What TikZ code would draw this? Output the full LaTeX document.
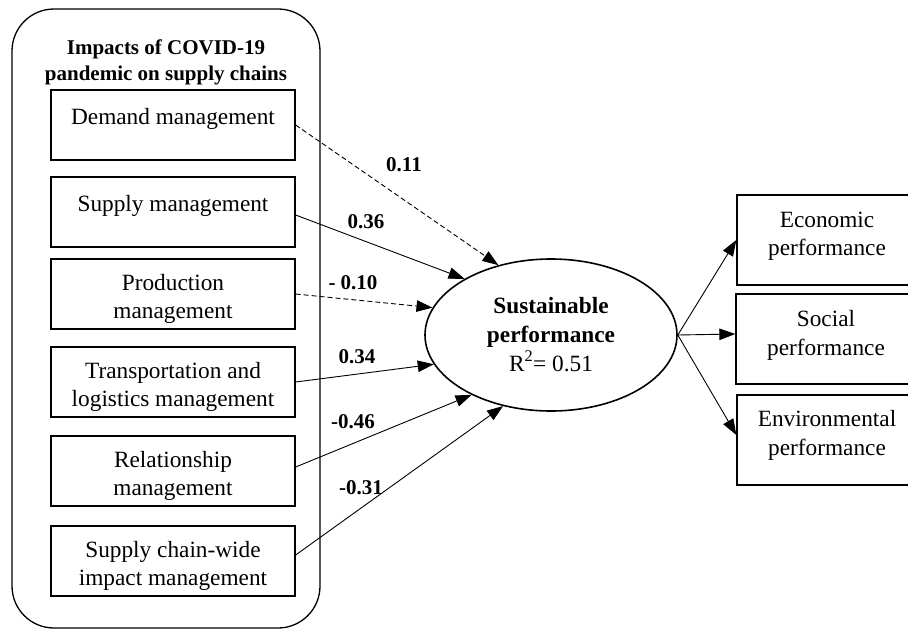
\documentclass[tikz,border=0pt]{standalone}
\usepackage{fontspec}
\setmainfont{Liberation Serif}
\usetikzlibrary{shapes.geometric,arrows.meta}
\begin{document}
\begin{tikzpicture}[x=1pt,y=-1pt,
  lbox/.style={draw,line width=1.3pt,rectangle,minimum width=244pt,minimum height=70pt,inner sep=0pt},
  rbox/.style={draw,line width=1.3pt,rectangle,minimum width=180pt,minimum height=90pt,inner sep=0pt},
  txt/.style={anchor=base,inner sep=0pt,font=\fontsize{23.3}{28}\selectfont},
  ttl/.style={anchor=base,inner sep=0pt,font=\fontsize{21}{26}\selectfont\bfseries},
  coef/.style={anchor=base,inner sep=0pt,font=\fontsize{21}{24}\selectfont\bfseries},
  arr/.style={-{Triangle[length=16pt,width=11.5pt]},line width=0.9pt},
  dsh/.style={dash pattern=on 5pt off 3pt}]
\useasboundingbox (0,0) rectangle (908,630);
\clip (0,0) rectangle (908,630);
% group container
\node[draw,line width=1.3pt,rounded corners=42pt,minimum width=308pt,minimum height=619pt,inner sep=0pt] (grp) at (166,318.5) {};
\node[ttl] (ttl1) at (166,54) {Impacts of COVID-19};
\node[ttl] (ttl2) at (166,80) {pandemic on supply chains};
% left boxes
\node[lbox] (b1) at (173,125) {};
\node[lbox] (b2) at (173,212) {};
\node[lbox] (b3) at (173,294) {};
\node[lbox] (b4) at (173,382) {};
\node[lbox] (b5) at (173,471) {};
\node[lbox] (b6) at (173,561) {};
\node[txt] (t1) at ([yshift=1pt]b1.center) {Demand management};
\node[txt] (t2) at ([yshift=1pt]b2.center) {Supply management};
\node[txt] (t3a) at ([yshift=4pt]b3.center) {Production};
\node[txt] (t3b) at ([yshift=-24pt]b3.center) {management};
\node[txt] (t4a) at ([yshift=4pt]b4.center) {Transportation and};
\node[txt] (t4b) at ([yshift=-24pt]b4.center) {logistics management};
\node[txt] (t5a) at ([yshift=4pt]b5.center) {Relationship};
\node[txt] (t5b) at ([yshift=-24pt]b5.center) {management};
\node[txt] (t6a) at ([yshift=4pt]b6.center) {Supply chain-wide};
\node[txt] (t6b) at ([yshift=-24pt]b6.center) {impact management};
% central construct
\node[draw,ellipse,line width=1.6pt,minimum width=252pt,minimum height=152pt,inner sep=0pt] (sp) at (551,335) {};
\node[txt,font=\fontsize{23.3}{28}\selectfont\bfseries] (sp1) at (551,313) {Sustainable};
\node[txt,font=\fontsize{23.3}{28}\selectfont\bfseries] (sp2) at (551,342) {performance};
\node[txt] (sp3) at (551,371) {R\textsuperscript{2}= 0.51};
% right boxes
\node[rbox] (eco) at (827,240) {};
\node[rbox] (soc) at (826,339) {};
\node[rbox] (env) at (827,440) {};
\node[txt] (e1) at ([yshift=13pt]eco.center) {Economic};
\node[txt] (e2) at ([yshift=-15pt]eco.center) {performance};
\node[txt] (s1) at ([yshift=13pt]soc.center) {Social};
\node[txt] (s2) at ([yshift=-16pt]soc.center) {performance};
\node[txt] (n1) at ([yshift=14pt]env.center) {Environmental};
\node[txt] (n2) at ([yshift=-15pt]env.center) {performance};
% paths
\draw[arr,dsh] (b1.east) -- (sp.127);
\draw[arr] ([yshift=-3pt]b2.east) -- (sp.147);
\draw[arr,dsh] (b3.east) -- (sp.167);
\draw[arr] (b4.east) -- (sp.194);
\draw[arr] ([yshift=4pt]b5.east) -- (sp.217);
\draw[arr] ([yshift=6pt]b6.east) -- (sp.236);
\draw[arr] (sp.east) -- (eco.west);
\draw[arr] (sp.east) -- ([yshift=5pt]soc.west);
\draw[arr] (sp.east) -- ([yshift=5pt]env.west);
% coefficients
\node[coef] (c1) at (404,171) {0.11};
\node[coef] (c2) at (366,228) {0.36};
\node[coef] (c3) at (353,289) {- 0.10};
\node[coef] (c4) at (357,363) {0.34};
\node[coef] (c5) at (353,428) {-0.46};
\node[coef] (c6) at (361,494) {-0.31};
\end{tikzpicture}
\end{document}
